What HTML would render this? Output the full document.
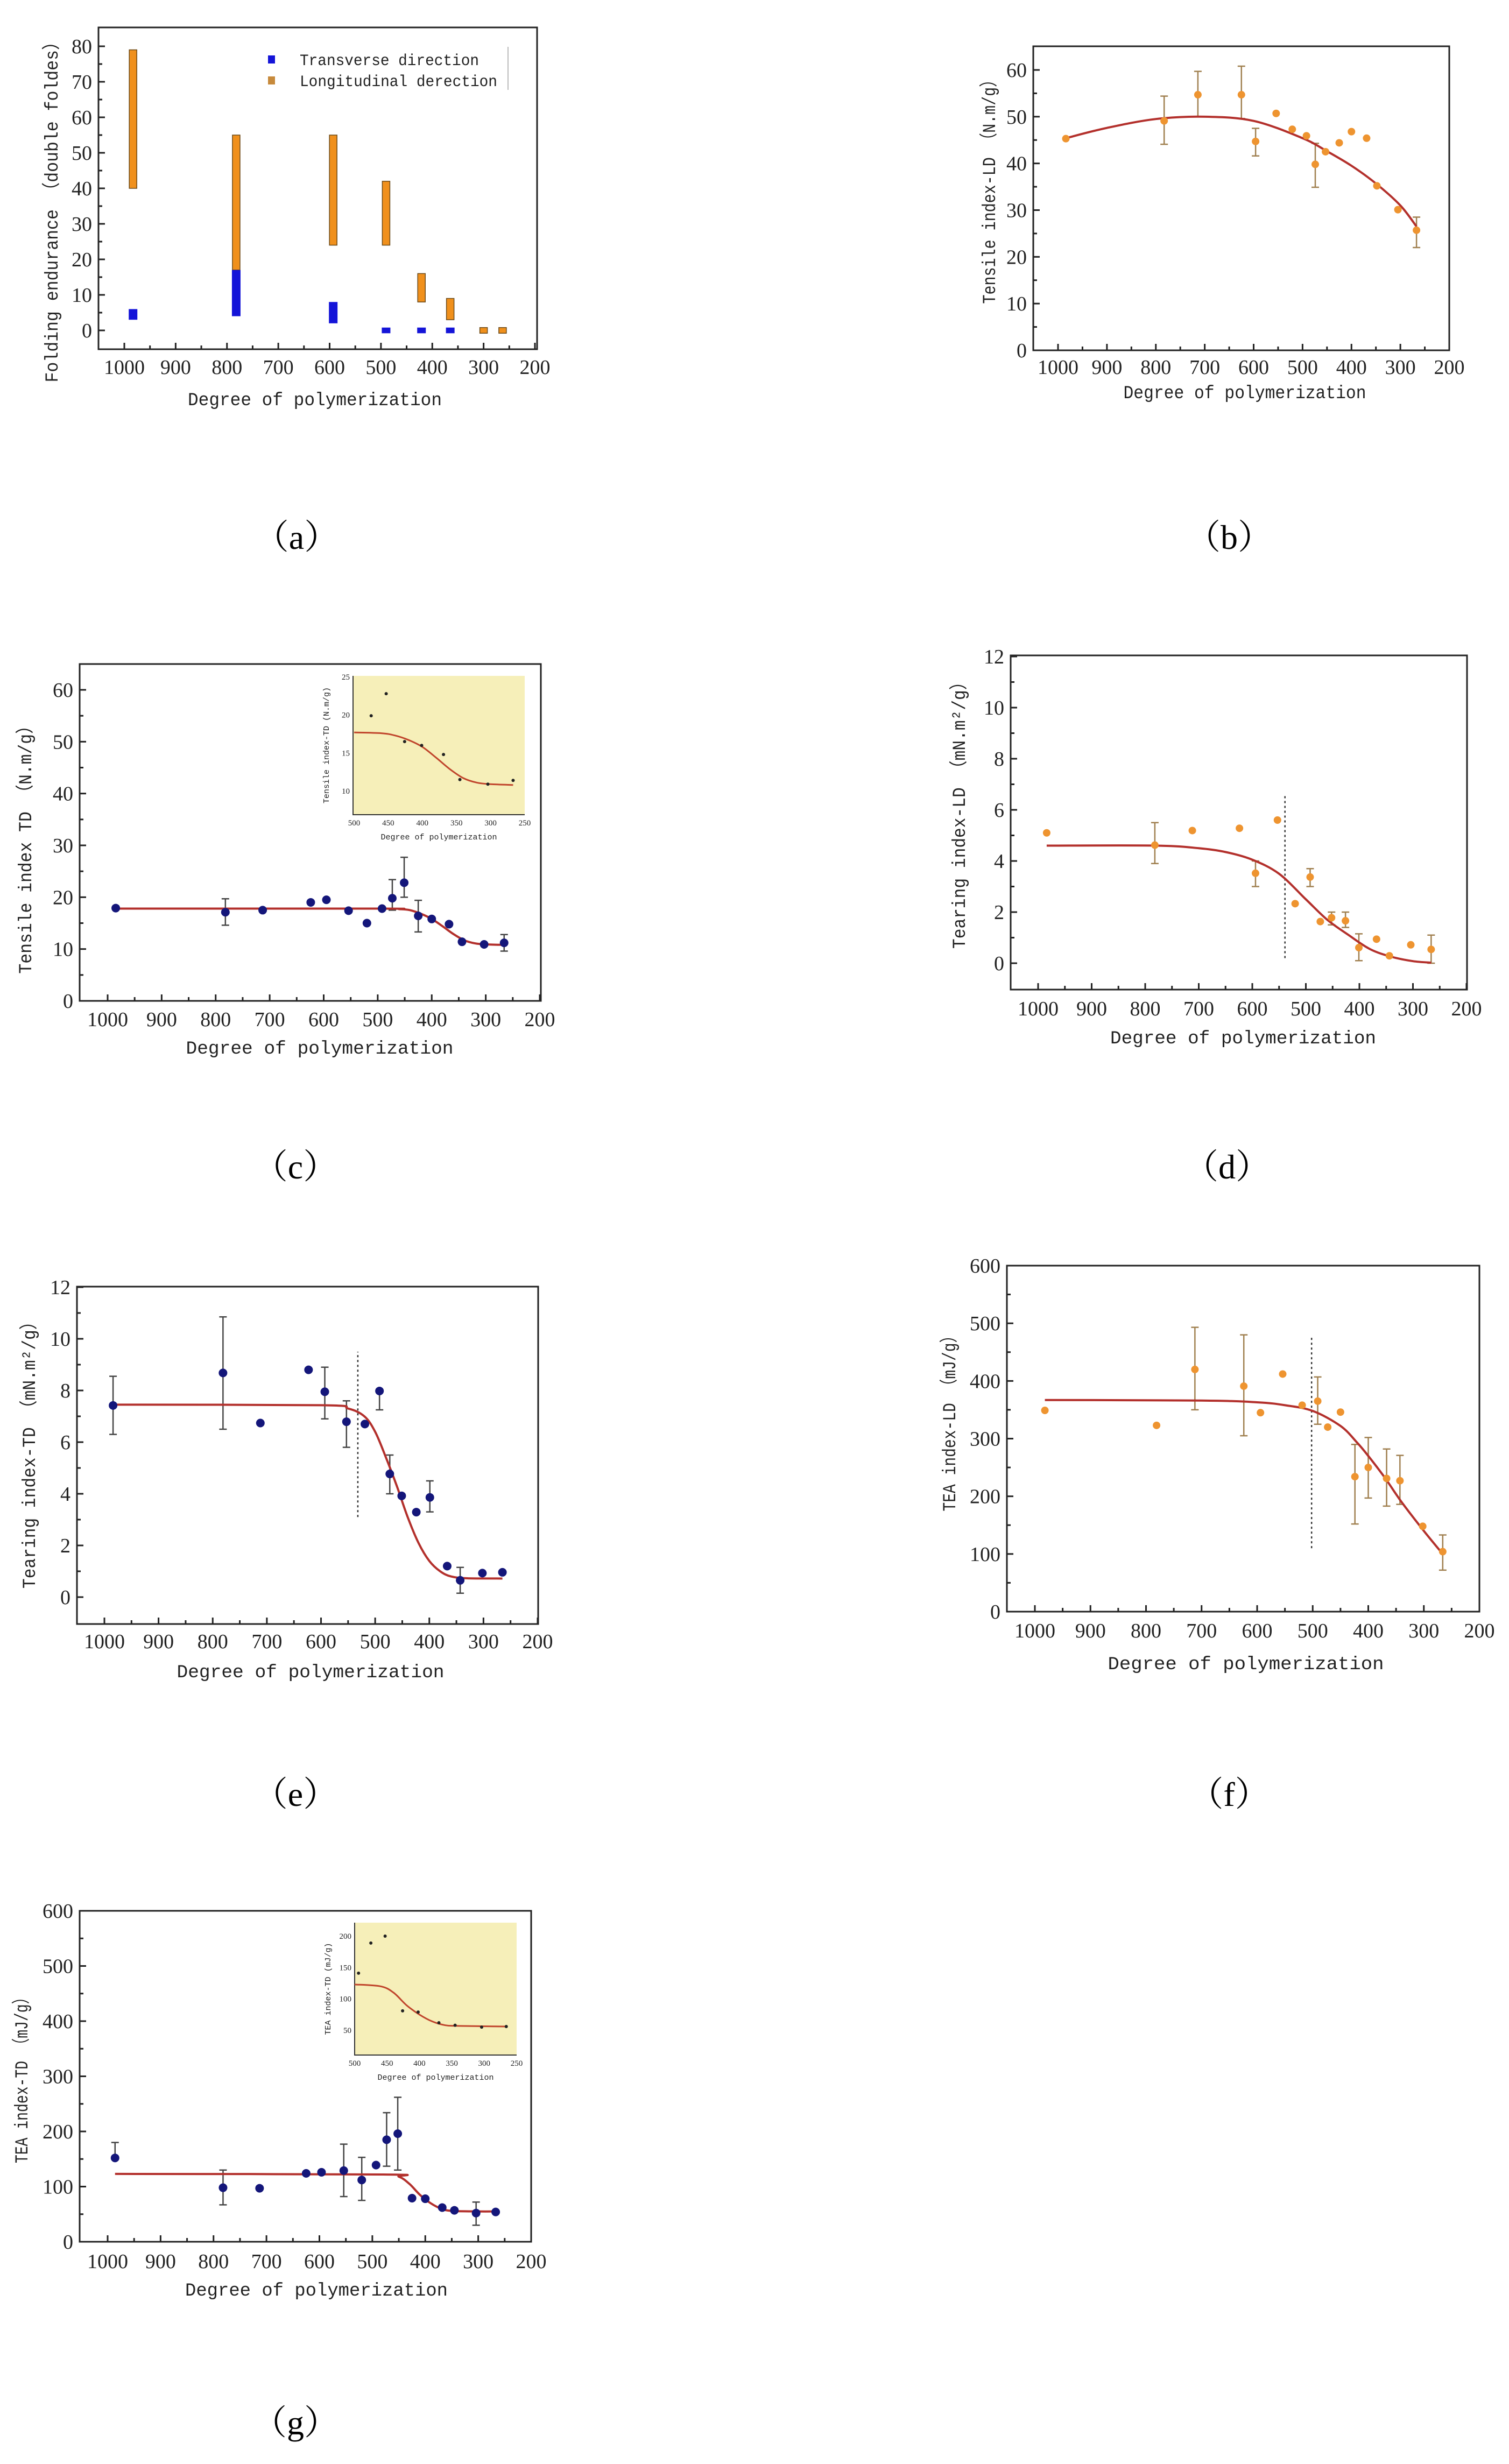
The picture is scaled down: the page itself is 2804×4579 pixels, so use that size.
<!DOCTYPE html>
<html><head><meta charset="utf-8">
<style>
html,body{margin:0;padding:0;background:#fff;}
body{width:2804px;height:4579px;overflow:hidden;}
svg{display:block;}
text{font-family:"Liberation Serif","Noto Serif CJK SC",serif;fill:#222;}
.mono{font-family:"Liberation Mono","Noto Sans CJK SC",monospace;}
.cap{font-family:"Liberation Serif","Noto Serif CJK SC",serif;font-size:64px;fill:#000;}
</style></head>
<body>
<svg id="fig" width="2804" height="4579" viewBox="0 0 2804 4579" xmlns="http://www.w3.org/2000/svg">
  <text class="cap" x="551" y="1020" text-anchor="middle">（a）</text>
  <text class="cap" x="2284" y="1020" text-anchor="middle">（b）</text>
  <text class="cap" x="549" y="2190" text-anchor="middle">（c）</text>
  <text class="cap" x="2280" y="2190" text-anchor="middle">（d）</text>
  <text class="cap" x="549" y="3356" text-anchor="middle">（e）</text>
  <text class="cap" x="2284" y="3356" text-anchor="middle">（f）</text>
  <text class="cap" x="549" y="4524" text-anchor="middle">（g）</text>
</svg>
<script>
// ---------- DATA ----------
// (a) folding endurance
const aLongDP = [983, 782, 593, 490, 421, 365, 300, 263];
const aLongLo = [40, 17, 24, 24, 8, 3, -0.8, -0.8];
const aLongHi = [79, 55, 55, 42, 16, 9, 0.8, 0.8];
const aTransDP = [983, 782, 593, 490, 421, 365];
const aTransLo = [3, 4, 2, -0.8, -0.8, -0.8];
const aTransHi = [6, 17, 8, 0.8, 0.8, 0.8];
const aYTicks = [0, 10, 20, 30, 40, 50, 60, 70, 80];
// (b) tensile LD
const bDP = [984, 783, 714, 625, 596, 554, 521, 492, 474, 453, 425, 400, 369, 348, 305, 267];
const bVal = [45.3, 49.1, 54.7, 54.7, 44.7, 50.7, 47.3, 45.9, 39.8, 42.5, 44.4, 46.8, 45.4, 35.2, 30.1, 25.7];
const bErrHi = [null, 54.4, 59.7, 60.8, 47.5, null, null, null, 44.3, null, null, null, null, null, null, 28.5];
const bErrLo = [null, 44.1, 50, 49.6, 41.6, null, null, null, 34.9, null, null, null, null, null, null, 22];
const bFitX = [984, 900, 800, 700, 600, 500, 450, 400, 350, 300, 267];
const bFitY = [45.4, 47.6, 49.5, 50, 49.1, 45.4, 42.6, 39.5, 35.7, 31, 26.5];
const bYTicks = [0, 10, 20, 30, 40, 50, 60];
// (c) tensile TD
const cDP = [985, 782, 713, 624, 595, 554, 520, 492, 473, 451, 425, 400, 368, 344, 303, 266];
const cVal = [17.9, 17.1, 17.5, 19.0, 19.5, 17.4, 15.0, 17.8, 19.8, 22.8, 16.4, 15.8, 14.8, 11.4, 10.9, 11.2];
const cErrHi = [null, 19.7, null, null, null, null, null, null, 23.4, 27.7, 19.4, null, null, null, null, 12.8];
const cErrLo = [null, 14.6, null, null, null, null, null, null, 17.5, 20, 13.3, null, null, null, null, 9.6];
const cFitX = [985, 500, 460, 440, 420, 400, 380, 360, 340, 320, 300, 266];
const cFitY = [17.8, 17.8, 17.7, 17.5, 16.8, 15.8, 14.4, 12.9, 11.7, 11.1, 10.9, 10.8];
const cInDP = [475, 453, 426, 401, 369, 345, 304, 267];
const cInVal = [19.9, 22.8, 16.5, 16.0, 14.8, 11.5, 10.9, 11.4];
const cInFitX = [500, 460, 440, 420, 400, 380, 360, 340, 320, 300, 267];
const cInFitY = [17.7, 17.6, 17.3, 16.7, 15.8, 14.4, 12.9, 11.7, 11.1, 10.9, 10.8];
const cInXTicks = [500, 450, 400, 350, 300, 250];
const cInYTicks = [10, 15, 20, 25];
const cYTicks = [0, 10, 20, 30, 40, 50, 60];
// (d) tearing LD
const dDP = [984, 782, 712, 624, 594, 553, 520, 492, 473, 452, 426, 401, 368, 344, 304, 266];
const dVal = [5.1, 4.62, 5.19, 5.28, 3.52, 5.6, 2.33, 3.37, 1.63, 1.78, 1.66, 0.61, 0.94, 0.29, 0.72, 0.54];
const dErrHi = [null, 5.5, null, null, 4.0, null, null, 3.7, null, 2.0, 2.0, 1.15, null, null, null, 1.1];
const dErrLo = [null, 3.9, null, null, 3.0, null, null, 3.0, null, 1.5, 1.4, 0.1, null, null, null, 0];
const dFitX = [984, 780, 700, 650, 600, 550, 500, 460, 420, 380, 340, 300, 266];
const dFitY = [4.6, 4.6, 4.5, 4.35, 4.05, 3.5, 2.5, 1.7, 1.1, 0.55, 0.25, 0.08, 0.02];
const dDash = [539, 0.2, 6.6];
const dYTicks = [0, 2, 4, 6, 8, 10, 12];
// (e) tearing TD
const eDP = [984, 781, 712, 623, 593, 553, 519, 492, 473, 451, 424, 399, 367, 343, 302, 265];
const eVal = [7.42, 8.68, 6.74, 8.8, 7.95, 6.79, 6.7, 7.98, 4.77, 3.92, 3.29, 3.86, 1.2, 0.65, 0.93, 0.96];
const eErrHi = [8.55, 10.85, null, null, 8.9, 7.6, null, 7.98, 5.5, null, null, 4.5, null, 1.15, null, null];
const eErrLo = [6.3, 6.5, null, null, 6.9, 5.8, null, 7.25, 4.0, null, null, 3.3, null, 0.15, null, null];
const eFitX = [984, 600, 550, 520, 500, 480, 460, 440, 420, 400, 380, 360, 330, 265];
const eFitY = [7.45, 7.43, 7.3, 7.0, 6.4, 5.4, 4.3, 3.1, 2.1, 1.4, 1.0, 0.8, 0.73, 0.72];
const eDash = [532, 3.1, 9.5];
const eYTicks = [0, 2, 4, 6, 8, 10, 12];
// (f) TEA LD
const fDP = [982, 781, 712, 624, 594, 554, 519, 491, 473, 450, 424, 400, 367, 343, 302, 266];
const fVal = [349, 323, 420, 391, 345, 412, 358, 365, 320, 346, 234, 250, 231, 227, 148, 104];
const fErrHi = [null, null, 493, 480, null, null, null, 407, null, null, 290, 302, 282, 271, null, 133];
const fErrLo = [null, null, 350, 305, 290, null, null, 325, null, null, 152, 197, 183, 186, null, 72];
const fFitX = [982, 700, 600, 550, 500, 450, 420, 400, 370, 340, 300, 266];
const fFitY = [367, 366, 363, 358, 348, 322, 293, 270, 232, 190, 140, 100];
const fDash = [502, 110, 478];
const fYTicks = [0, 100, 200, 300, 400, 500, 600];
// (g) TEA TD
const gDP = [986, 782, 713, 625, 596, 554, 520, 493, 473, 452, 425, 400, 368, 345, 304, 267];
const gVal = [152, 98, 97, 124, 126, 129, 112, 139, 185, 196, 79, 78, 62, 57, 52, 54];
const gErrHi = [180, 130, null, null, null, 177, 153, null, 234, 262, null, null, null, null, 72, null];
const gErrLo = [152, 67, null, null, null, 82, 75, null, 137, 130, null, null, null, null, 30, null];
const gFitX = [986, 480, 450, 430, 410, 390, 370, 350, 300, 267];
const gFitY = [123, 122, 118, 105, 85, 70, 60, 56, 55, 55];
const gInDP = [494, 475, 453, 426, 402, 370, 345, 304, 266];
const gInVal = [141, 189, 200, 81, 79, 62, 58, 55, 56];
const gInFitX = [500, 460, 440, 420, 400, 380, 360, 340, 266];
const gInFitY = [123, 120, 110, 90, 75, 64, 58, 57, 56];
const gInXTicks = [500, 450, 400, 350, 300, 250];
const gInYTicks = [50, 100, 150, 200];
const gYTicks = [0, 100, 200, 300, 400, 500, 600];
const xTicks = [1000, 900, 800, 700, 600, 500, 400, 300, 200];

// ---------- RENDERING ----------
const NS = 'http://www.w3.org/2000/svg';
const svg = document.getElementById('fig');
function mk(tag, attrs, parent) {
  const e = document.createElementNS(NS, tag);
  for (const k in attrs) e.setAttribute(k, attrs[k]);
  (parent || svg).appendChild(e);
  return e;
}
function scales(P) {
  const sx = v => P.x1000 + (1000 - v) * (P.x200 - P.x1000) / 800;
  const sy = v => P.py0 + (v - P.v0) * (P.py1 - P.py0) / (P.v1 - P.v0);
  return [sx, sy];
}
function smoothPath(pts) {
  let d = 'M' + pts[0][0] + ',' + pts[0][1];
  for (let i = 0; i < pts.length - 1; i++) {
    const p0 = pts[Math.max(0, i - 1)], p1 = pts[i], p2 = pts[i + 1], p3 = pts[Math.min(pts.length - 1, i + 2)];
    const c1x = p1[0] + (p2[0] - p0[0]) / 6, c1y = p1[1] + (p2[1] - p0[1]) / 6;
    const c2x = p2[0] - (p3[0] - p1[0]) / 6, c2y = p2[1] - (p3[1] - p1[1]) / 6;
    d += ' C' + c1x + ',' + c1y + ' ' + c2x + ',' + c2y + ' ' + p2[0] + ',' + p2[1];
  }
  return d;
}
function axes(P, yTicks, minorStep, key) {
  const [sx, sy] = scales(P);
  const g = mk('g', {});
  
  
  const fr = mk('rect', {x: P.L, y: P.T, width: P.R - P.L, height: P.B - P.T, fill: 'none', stroke: '#222', 'stroke-width': 3}, g);
  
  
  for (let v = 1000; v >= 200; v -= 50) {
    const x = sx(v), major = v % 100 === 0;
    const t = mk('line', {x1: x, x2: x, y1: P.B, y2: P.B - (major ? 12 : 7), stroke: '#222', 'stroke-width': 3}, g);
    
    
  }
  xTicks.forEach(v => {
    const t = mk('text', {x: sx(v), y: P.xLabY, 'text-anchor': 'middle', 'font-size': 38}, g);
    t.textContent = v;
    
    
  });
  const lo = yTicks[0], hi = yTicks[yTicks.length - 1];
  for (let v = lo; v <= hi + 1e-9; v += minorStep) {
    const y = sy(v);
    const major = yTicks.some(t => Math.abs(t - v) < 1e-6);
    const t = mk('line', {x1: P.L, x2: P.L + (major ? 12 : 7), y1: y, y2: y, stroke: '#222', 'stroke-width': 3}, g);
    
    
  }
  yTicks.forEach(v => {
    const t = mk('text', {x: P.L - 12, y: sy(v) + 13, 'text-anchor': 'end', 'font-size': 38}, g);
    t.textContent = v;
    
    
  });
  const xt = mk('text', {x: P.xtX, y: P.xtY, 'text-anchor': 'middle', 'font-size': 34, class: 'mono', textLength: P.xtLen, lengthAdjust: 'spacingAndGlyphs'}, g);
  xt.textContent = 'Degree of polymerization';
  
  
  const yt = mk('text', {x: 0, y: 0, 'text-anchor': 'middle', 'font-size': 34, class: 'mono', textLength: P.ytLen, lengthAdjust: 'spacingAndGlyphs', transform: 'translate(' + (P.ytX + 12) + ',' + P.ytY + ') rotate(-90)'}, g);
  yt.textContent = P.ytText;
  
  
  return [sx, sy];
}
function series(P, key, dp, val, hi, lo, fx, fy, color, ecolor, r, dash) {
  const [sx, sy] = scales(P);
  const g = mk('g', {});
  
  
  if (dash) {
    const dl = mk('line', {x1: sx(dash[0]), x2: sx(dash[0]), y1: sy(dash[1]), y2: sy(dash[2]), stroke: '#333', 'stroke-width': 2.5, 'stroke-dasharray': '4 5'}, g);
    
    
  }
  dp.forEach((d, i) => {
    if (hi[i] === null || lo[i] === null) return;
    const x = sx(d);
    const e = mk('path', {d: 'M' + x + ',' + sy(hi[i]) + 'V' + sy(lo[i]) + 'M' + (x - 7) + ',' + sy(hi[i]) + 'h14M' + (x - 7) + ',' + sy(lo[i]) + 'h14', stroke: ecolor, 'stroke-width': 2.5, fill: 'none'}, g);
    
    
  });
  const fit = mk('path', {d: smoothPath(fx.map((x, i) => [sx(x), sy(fy[i])])), stroke: '#b3302c', 'stroke-width': 4, fill: 'none'}, g);
  
  
  dp.forEach((d, i) => {
    const c = mk('circle', {cx: sx(d), cy: sy(val[i]), r: r, fill: color}, g);
    
    
  });
}
function inset(I, key, dp, val, fx, fy, xt, yt, ytText) {
  const sx = v => I.x500 + (500 - v) * (I.x250 - I.x500) / 250;
  const sy = v => I.py0 + (v - I.v0) * (I.py1 - I.py0) / (I.v1 - I.v0);
  const g = mk('g', {});
  
  
  const bg = mk('rect', {x: I.L, y: I.T, width: I.R - I.L, height: I.B - I.T, fill: '#f6efb9'}, g);
  
  
  const ax = mk('path', {d: 'M' + I.L + ',' + I.T + 'V' + I.B + 'H' + I.R, stroke: '#333', 'stroke-width': 2, fill: 'none'}, g);
  
  
  xt.forEach(v => {
    const t = mk('text', {x: sx(v), y: I.B + 20, 'text-anchor': 'middle', 'font-size': 15, fill: '#555'}, g);
    t.textContent = v;
    
    
  });
  yt.forEach(v => {
    const t = mk('text', {x: I.L - 6, y: sy(v) + 5, 'text-anchor': 'end', 'font-size': 15, fill: '#555'}, g);
    t.textContent = v;
    
    
  });
  const xl = mk('text', {x: (I.L + I.R) / 2, y: I.B + 46, 'text-anchor': 'middle', 'font-size': 15, fill: '#555', class: 'mono'}, g);
  xl.textContent = 'Degree of polymerization';
  
  
  const yl = mk('text', {x: 0, y: 0, 'text-anchor': 'middle', 'font-size': 15, fill: '#555', class: 'mono', transform: 'translate(' + (I.L - 45) + ',' + ((I.T + I.B) / 2) + ') rotate(-90)'}, g);
  yl.textContent = ytText;
  
  
  const f = mk('path', {d: smoothPath(fx.map((x, i) => [sx(x), sy(fy[i])])), stroke: '#c0452c', 'stroke-width': 3, fill: 'none'}, g);
  
  
  dp.forEach((d, i) => {
    const c = mk('circle', {cx: sx(d), cy: sy(val[i]), r: 3, fill: '#222'}, g);
    
    
  });
}

// ---------- PANEL A ----------
const PA = {L: 183, T: 51, R: 998, B: 649, x1000: 231, x200: 994, v0: 0, py0: 614, v1: 80, py1: 86,
  xLabY: 695, xtX: 585, xtY: 753, xtLen: 472, ytX: 95, ytY: 386, ytLen: 649, ytText: 'Folding endurance （double foldes）'};
{
  const [sx, sy] = axes(PA, aYTicks, 5, 'panel-a');
  aLongDP.forEach((d, i) => {
    const b = mk('rect', {x: sx(d) - 7, y: sy(aLongHi[i]), width: 14, height: sy(aLongLo[i]) - sy(aLongHi[i]), fill: '#f0901c', stroke: '#6b4a1a', 'stroke-width': 1.5});
    
    
  });
  aTransDP.forEach((d, i) => {
    const b = mk('rect', {x: sx(d) - 8, y: sy(aTransHi[i]), width: 16, height: sy(aTransLo[i]) - sy(aTransHi[i]), fill: '#1414d8'});
    
    
  });
  const lg = mk('g', {});
  
  
  const lb = mk('line', {x1: 944, x2: 944, y1: 87, y2: 167, stroke: '#bbb', 'stroke-width': 2}, lg);
  
  
  const s1 = mk('rect', {x: 498, y: 103, width: 13, height: 15, fill: '#1414d8'}, lg);
  
  
  const s2 = mk('rect', {x: 498, y: 142, width: 13, height: 15, fill: '#c78a3c'}, lg);
  
  
  const t1 = mk('text', {x: 557, y: 121, 'font-size': 30, class: 'mono', textLength: 333, lengthAdjust: 'spacingAndGlyphs'}, lg);
  t1.textContent = 'Transverse direction';
  
  
  const t2 = mk('text', {x: 557, y: 160, 'font-size': 30, class: 'mono', textLength: 367, lengthAdjust: 'spacingAndGlyphs'}, lg);
  t2.textContent = 'Longitudinal derection';
  
  
}
// ---------- PANEL B ----------
const PB = {L: 1920, T: 86, R: 2693, B: 651, x1000: 1966, x200: 2693, v0: 0, py0: 651, v1: 60, py1: 130,
  xLabY: 695, xtX: 2313, xtY: 740, xtLen: 451, ytX: 1837, ytY: 349, ytLen: 431, ytText: 'Tensile index-LD （N.m/g）'};
axes(PB, bYTicks, 5, 'panel-b');
series(PB, 'panel-b', bDP, bVal, bErrHi, bErrLo, bFitX, bFitY, '#ee9430', '#a08050', 7, null);
// ---------- PANEL C ----------
const PC = {L: 148, T: 1234, R: 1005, B: 1860, x1000: 200, x200: 1003, v0: 0, py0: 1860, v1: 60, py1: 1282,
  xLabY: 1907, xtX: 594, xtY: 1958, xtLen: 497, ytX: 46, ytY: 1571, ytLen: 477, ytText: 'Tensile index TD （N.m/g）'};
axes(PC, cYTicks, 5, 'panel-c');
series(PC, 'panel-c', cDP, cVal, cErrHi, cErrLo, cFitX, cFitY, '#14167a', '#444', 8, null);
inset({L: 656, T: 1256, R: 975, B: 1514, x500: 658, x250: 975, v0: 10, py0: 1470, v1: 25, py1: 1258},
  'panel-c', cInDP, cInVal, cInFitX, cInFitY, cInXTicks, cInYTicks, 'Tensile index-TD (N.m/g)');
// ---------- PANEL D ----------
const PD = {L: 1878, T: 1218, R: 2726, B: 1839, x1000: 1929, x200: 2725, v0: 0, py0: 1790, v1: 12, py1: 1220,
  xLabY: 1887, xtX: 2310, xtY: 1939, xtLen: 494, ytX: 1781, ytY: 1507, ytLen: 512, ytText: 'Tearing index-LD （mN.m²/g）'};
axes(PD, dYTicks, 1, 'panel-d');
series(PD, 'panel-d', dDP, dVal, dErrHi, dErrLo, dFitX, dFitY, '#ee9430', '#a08050', 7, dDash);
// ---------- PANEL E ----------
const PE = {L: 143, T: 2391, R: 1000, B: 3018, x1000: 194, x200: 999, v0: 0, py0: 2968, v1: 12, py1: 2392,
  xLabY: 3063, xtX: 577, xtY: 3117, xtLen: 497, ytX: 53, ytY: 2696, ytLen: 512, ytText: 'Tearing index-TD （mN.m²/g）'};
axes(PE, eYTicks, 1, 'panel-e');
series(PE, 'panel-e', eDP, eVal, eErrHi, eErrLo, eFitX, eFitY, '#14167a', '#444', 8, eDash);
// ---------- PANEL F ----------
const PF = {L: 1871, T: 2352, R: 2749, B: 2995, x1000: 1923, x200: 2749, v0: 0, py0: 2995, v1: 600, py1: 2352,
  xLabY: 3043, xtX: 2315, xtY: 3102, xtLen: 513, ytX: 1763, ytY: 2638, ytLen: 341, ytText: 'TEA index-LD （mJ/g）'};
axes(PF, fYTicks, 50, 'panel-f');
series(PF, 'panel-f', fDP, fVal, fErrHi, fErrLo, fFitX, fFitY, '#ee9430', '#a08050', 7, fDash);
// ---------- PANEL G ----------
const PG = {L: 148, T: 3551, R: 987, B: 4166, x1000: 200, x200: 987, v0: 0, py0: 4166, v1: 600, py1: 3551,
  xLabY: 4215, xtX: 588, xtY: 4266, xtLen: 488, ytX: 39, ytY: 3859, ytLen: 322, ytText: 'TEA index-TD （mJ/g）'};
axes(PG, gYTicks, 50, 'panel-g');
series(PG, 'panel-g', gDP, gVal, gErrHi, gErrLo, gFitX, gFitY, '#14167a', '#444', 8, null);
inset({L: 659, T: 3573, R: 960, B: 3819, x500: 659, x250: 960, v0: 50, py0: 3773, v1: 200, py1: 3598},
  'panel-g', gInDP, gInVal, gInFitX, gInFitY, gInXTicks, gInYTicks, 'TEA index-TD (mJ/g)');
</script>
</body></html>
